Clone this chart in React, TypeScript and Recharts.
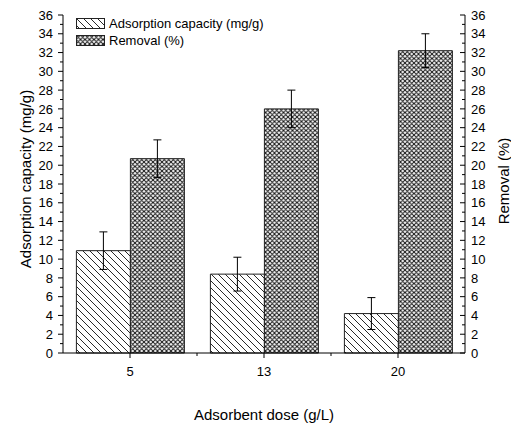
import React from 'react';
import { BarChart, Bar, XAxis, YAxis, ErrorBar, Legend, Label } from 'recharts';

const doses = ['5', '13', '20'];
const adsorption = [10.9, 8.4, 4.2];
const adsorptionErr = [2.0, 1.8, 1.7];
const removal = [20.7, 26.0, 32.2];
const removalErr = [2.0, 2.0, 1.8];
const yTicks = [0, 1, 2, 3, 4, 5, 6, 7, 8, 9, 10, 11, 12, 13, 14, 15, 16, 17, 18, 19, 20, 21, 22, 23, 24, 25, 26, 27, 28, 29, 30, 31, 32, 33, 34, 35, 36];

const seriesNames = { adsorption: 'Adsorption capacity (mg/g)', removal: 'Removal (%)' };
const xTitle = 'Adsorbent dose (g/L)';

const data = doses.map((d, i) => ({
  dose: d,
  adsorption: adsorption[i],
  adsorptionErr: adsorptionErr[i],
  removal: removal[i],
  removalErr: removalErr[i],
}));

const FONT = '"Liberation Sans", Arial, sans-serif';
const INK = '#000';

const LeftTick = (props: any) => {
  const { x, y, payload } = props;
  const major = payload.value % 2 === 0;
  return (
    <g>
      <line x1={x} x2={x - (major ? 5 : 3)} y1={y} y2={y} stroke={INK} strokeWidth={1} />
      {major && (
        <text x={x - 10} y={y} dy="0.36em" textAnchor="end" fontSize={13} fontFamily={FONT} fill={INK}>
          {payload.value}
        </text>
      )}
    </g>
  );
};

const RightTick = (props: any) => {
  const { x, y, payload } = props;
  const major = payload.value % 2 === 0;
  return (
    <g>
      <line x1={x} x2={x - (major ? 5 : 3)} y1={y} y2={y} stroke={INK} strokeWidth={1} />
      {major && (
        <text x={x + 6} y={y} dy="0.36em" textAnchor="start" fontSize={13} fontFamily={FONT} fill={INK}>
          {payload.value}
        </text>
      )}
    </g>
  );
};

const XTick = (props: any) => {
  const { x, y, payload, index } = props;
  const off = payload && typeof payload.offset === 'number' ? payload.offset : 0;
  return (
    <g>
      <line x1={x} x2={x} y1={y} y2={y + 5} stroke={INK} strokeWidth={1} />
      {index < doses.length - 1 && off > 0 && (
        <line x1={x + off} x2={x + off} y1={y} y2={y + 3} stroke={INK} strokeWidth={1} />
      )}
      <text x={x} y={y + 23} textAnchor="middle" fontSize={13} fontFamily={FONT} fill={INK}>
        {payload.value}
      </text>
    </g>
  );
};

const LegendContent = () => (
  <div style={{ fontFamily: FONT, fontSize: 13, color: INK, lineHeight: '17px' }}>
    {[
      { key: 'adsorption', fill: 'url(#hatchDiag)' },
      { key: 'removal', fill: 'url(#hatchCross)' },
    ].map((it) => (
      <div key={it.key} style={{ display: 'flex', alignItems: 'center', height: 17 }}>
        <svg width={29} height={12} style={{ display: 'block', marginRight: 4 }}>
          <rect x={0.5} y={0.5} width={28} height={10} fill={it.fill} stroke="#222" strokeWidth={1} />
        </svg>
        <span style={{ whiteSpace: 'nowrap' }}>{(seriesNames as any)[it.key]}</span>
      </div>
    ))}
  </div>
);

export default function App() {
  return (
    <div style={{ position: 'absolute', left: 0, top: 0, background: '#fff' }}>
      <BarChart
        width={511}
        height={423}
        data={data}
        margin={{ top: 15, right: 0, bottom: 8, left: 0 }}
        barCategoryGap="10%"
        barGap={0}
      >
        <defs>
          <pattern id="hatchDiag" patternUnits="userSpaceOnUse" width={7} height={7}>
            <rect width={7} height={7} fill="#fff" />
            <path d="M0,0 L7,7 M-1,6 L1,8 M6,-1 L8,1" stroke="#111" strokeWidth={0.9} />
          </pattern>
          <pattern id="hatchCross" patternUnits="userSpaceOnUse" width={4.5} height={4.5}>
            <rect width={4.5} height={4.5} fill="#fff" />
            <path
              d="M0,0 L4.5,4.5 M-1,3.5 L1,5.5 M3.5,-1 L5.5,1 M0,4.5 L4.5,0 M-1,1 L1,-1 M3.5,5.5 L5.5,3.5"
              stroke="#111"
              strokeWidth={1.0}
            />
          </pattern>
        </defs>
        <XAxis
          dataKey="dose"
          type="category"
          height={62}
          axisLine={{ stroke: INK, strokeWidth: 1 }}
          tickLine={false}
          tickSize={0}
          tickMargin={0}
          tick={<XTick />}
          interval={0}
        >
          <Label
            content={(p: any) => {
              const vb = p.viewBox || { x: 63, y: 352, width: 402, height: 62 };
              return (
                <text
                  x={vb.x + vb.width / 2}
                  y={vb.y + 61}
                  textAnchor="middle"
                  dominantBaseline="central"
                  fontSize={15}
                  fontFamily={FONT}
                  fill={INK}
                >
                  {xTitle}
                </text>
              );
            }}
          />
        </XAxis>
        <YAxis
          yAxisId="left"
          orientation="left"
          width={63}
          domain={[0, 36]}
          ticks={yTicks}
          interval={0}
          axisLine={{ stroke: INK, strokeWidth: 1 }}
          tickLine={false}
          tickSize={0}
          tickMargin={0}
          tick={<LeftTick />}
        >
          <Label
            content={(p: any) => {
              const vb = p.viewBox || { x: 0, y: 15, width: 63, height: 337 };
              const cx = vb.x + 25;
              const cy = vb.y + vb.height / 2 - 5;
              return (
                <text
                  x={cx}
                  y={cy}
                  transform={`rotate(-90 ${cx} ${cy})`}
                  textAnchor="middle"
                  dominantBaseline="central"
                  fontSize={15}
                  fontFamily={FONT}
                  fill={INK}
                >
                  {seriesNames.adsorption}
                </text>
              );
            }}
          />
        </YAxis>
        <YAxis
          yAxisId="right"
          orientation="right"
          width={46}
          domain={[0, 36]}
          ticks={yTicks}
          interval={0}
          axisLine={{ stroke: INK, strokeWidth: 1 }}
          tickLine={false}
          tickSize={0}
          tickMargin={0}
          tick={<RightTick />}
        >
          <Label
            content={(p: any) => {
              const vb = p.viewBox || { x: 465, y: 15, width: 46, height: 337 };
              const cx = vb.x + 38;
              const cy = vb.y + vb.height / 2 - 3;
              return (
                <text
                  x={cx}
                  y={cy}
                  transform={`rotate(-90 ${cx} ${cy})`}
                  textAnchor="middle"
                  dominantBaseline="central"
                  fontSize={15}
                  fontFamily={FONT}
                  fill={INK}
                >
                  {seriesNames.removal}
                </text>
              );
            }}
          />
        </YAxis>
        <Legend
          layout="vertical"
          align="center"
          verticalAlign="middle"
          content={<LegendContent />}
          wrapperStyle={{ left: 76, top: 15, width: 'auto', height: 'auto' }}
        />
        <Bar
          yAxisId="left"
          dataKey="adsorption"
          name={seriesNames.adsorption}
          fill="url(#hatchDiag)"
          stroke="#222"
          strokeWidth={1}
          isAnimationActive={false}
        >
          <ErrorBar dataKey="adsorptionErr" width={4} stroke={INK} strokeWidth={1} direction="y" />
        </Bar>
        <Bar
          yAxisId="right"
          dataKey="removal"
          name={seriesNames.removal}
          fill="url(#hatchCross)"
          stroke="#222"
          strokeWidth={1}
          isAnimationActive={false}
        >
          <ErrorBar dataKey="removalErr" width={4} stroke={INK} strokeWidth={1} direction="y" />
        </Bar>
      </BarChart>
    </div>
  );
}
